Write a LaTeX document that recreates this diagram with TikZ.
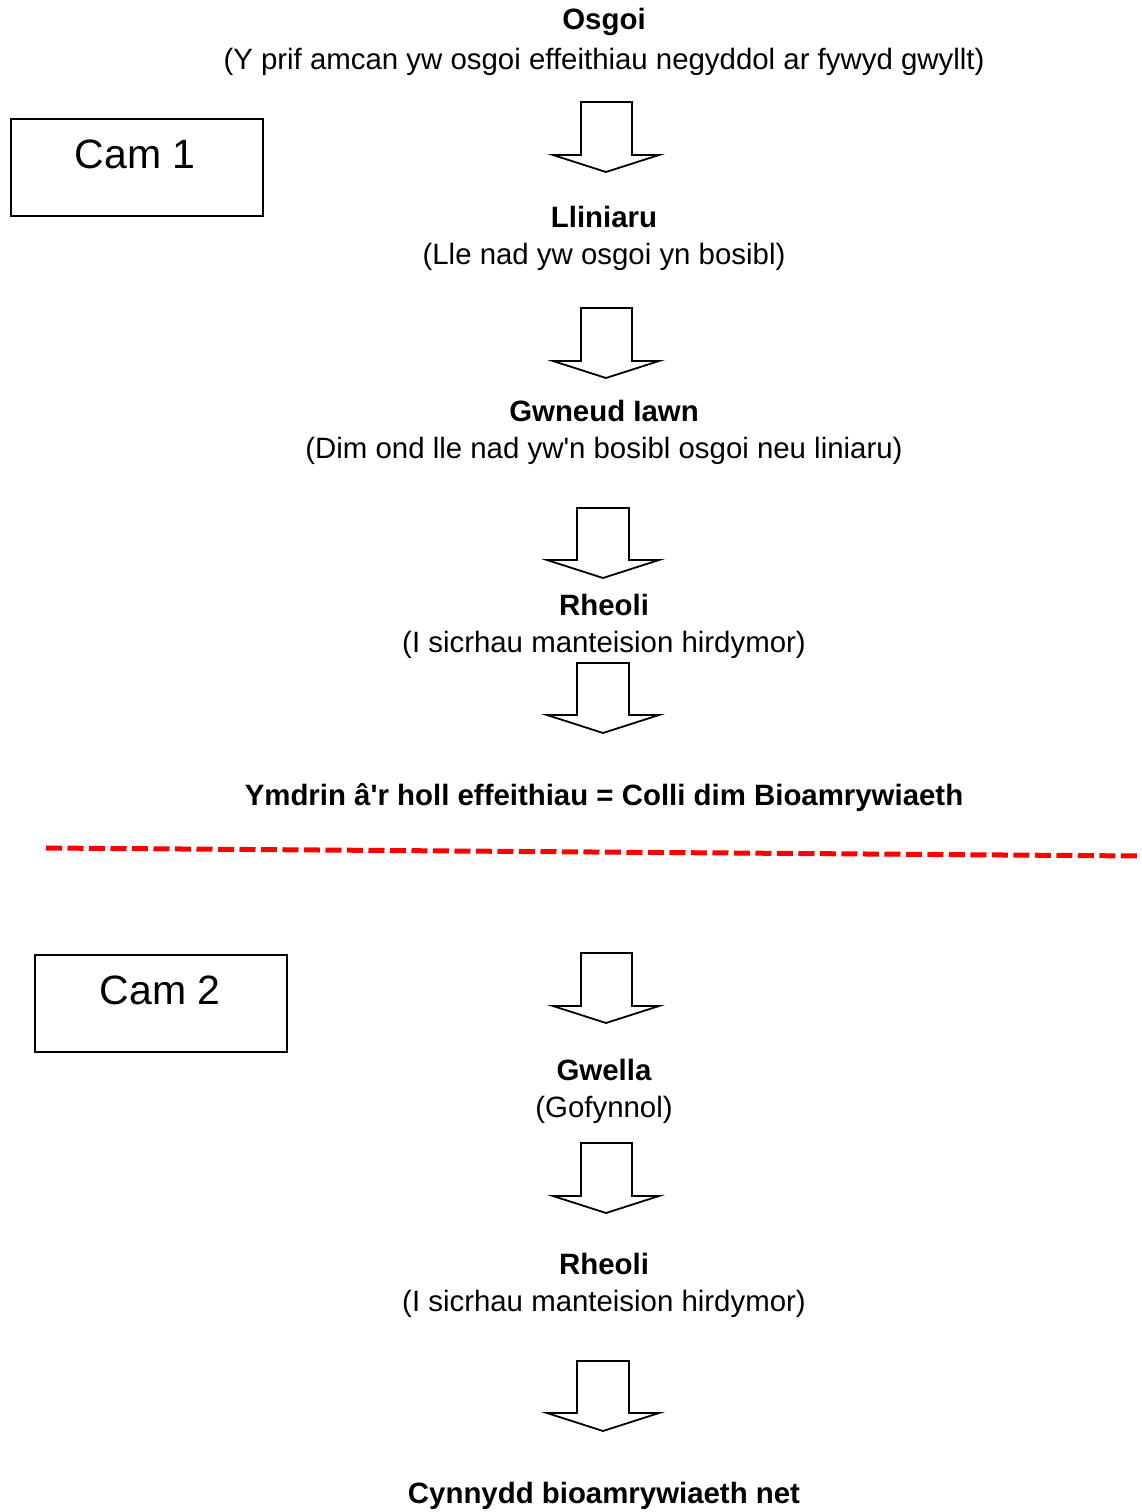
\documentclass[tikz,border=0pt]{standalone}
\usepackage{fontspec}
\setmainfont{Liberation Sans}[Ligatures=TeXOff]
\begin{document}
\begin{tikzpicture}[x=1pt,y=-1pt,
  title/.style={font=\fontsize{29.4}{34}\selectfont\bfseries, anchor=center, inner sep=0pt},
  sub/.style={font=\fontsize{29.4}{34}\selectfont, anchor=center, inner sep=0pt},
  cambox/.style={draw=black, line width=2pt, minimum width=252pt, minimum height=97pt, inner sep=0pt, anchor=north west},
  camtext/.style={font=\fontsize{41}{48}\selectfont, anchor=center, inner sep=0pt},
  blk/.style={draw=black, line width=1.8pt, fill=white, line join=miter}
]
\useasboundingbox (0,0) rectangle (1141,1512);
\fill[white] (0,0) rectangle (1141,1512);

% type A arrow: shaft 581-632, head 551-661, tip 606
\newcommand\arrA[1]{\draw[blk] (581,#1) -- (632,#1) -- (632,#1+53) -- (659,#1+53) -- (606,#1+70) -- (553,#1+53) -- (581,#1+53) -- cycle;}
% type B arrow: shaft 577-629, head 545-661, tip 603
\newcommand\arrB[1]{\draw[blk] (577,#1) -- (629,#1) -- (629,#1+52) -- (659,#1+52) -- (603,#1+70) -- (547,#1+52) -- (577,#1+52) -- cycle;}

\node[title] (t1) at (604,22) {Osgoi};
\node[sub] (s1) at (604,62) {(Y prif amcan yw osgoi effeithiau negyddol ar fywyd gwyllt)};
\arrA{102}
\node[title] (t2) at (604,217) {Lliniaru};
\node[sub] (s2) at (604,257) {(Lle nad yw osgoi yn bosibl)};
\arrA{308}
\node[title] (t3) at (604,411) {Gwneud Iawn};
\node[sub] (s3) at (604,451) {(Dim ond lle nad yw'n bosibl osgoi neu liniaru)};
\arrB{508}
\node[title] (t4) at (604,605) {Rheoli};
\node[sub] (s4) at (604,645) {(I sicrhau manteision hirdymor)};
\arrB{663}
\node[title] (t5) at (604,798) {Ymdrin â'r holl effeithiau = Colli dim Bioamrywiaeth};

\coordinate (dl) at (46,848);
\coordinate (dr) at (1141,856);
\draw[red, line width=5pt, dash pattern=on 16pt off 5.5pt] (dl) -- (dr);

\node[cambox] (b1) at (10,118) {};
\node[camtext] (c1) at (135,154) {Cam 1};
\node[cambox] (b2) at (34,954) {};
\node[camtext] (c2) at (160,990) {Cam 2};

\arrA{953}
\node[title] (t6) at (604,1070) {Gwella};
\node[sub] (s6) at (604,1110) {(Gofynnol)};
\arrA{1143}
\node[title] (t7) at (604,1264) {Rheoli};
\node[sub] (s7) at (604,1304) {(I sicrhau manteision hirdymor)};
\arrB{1361}
\node[title] (t8) at (604,1496) {Cynnydd bioamrywiaeth net};
\end{tikzpicture}
\end{document}
